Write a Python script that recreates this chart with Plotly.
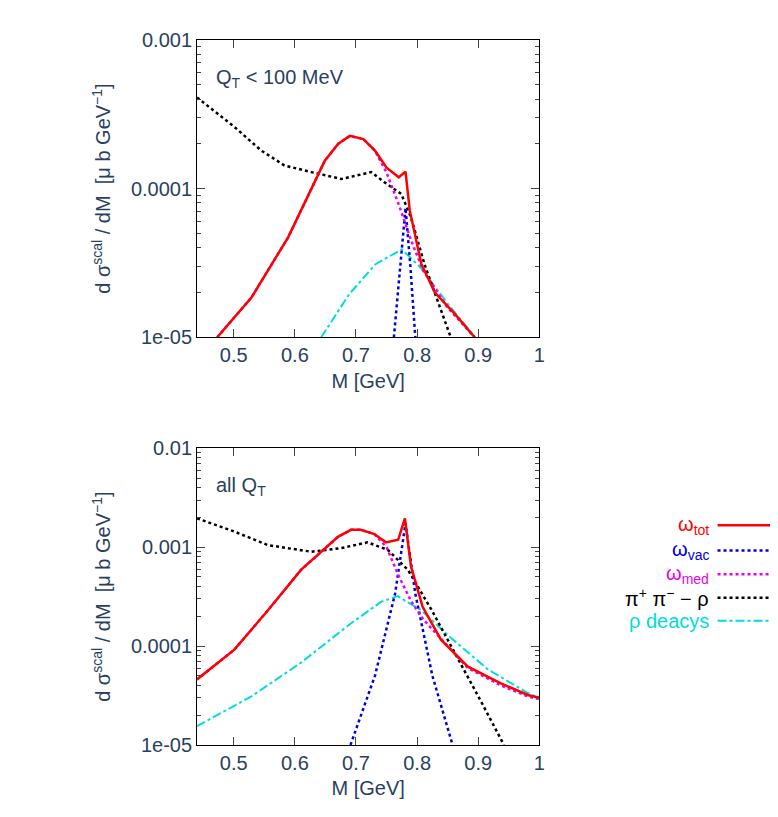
import plotly.graph_objects as go

# ---- top panel: Q_T < 100 MeV ----
m_tot_a = [0.473, 0.529, 0.589, 0.649, 0.671, 0.690, 0.712, 0.731, 0.750, 0.770, 0.781, 0.788, 0.807, 0.829, 0.862, 0.894]
y_tot_a = [1.0e-5, 1.85e-5, 4.7e-5, 1.54e-4, 2.0e-4, 2.26e-4, 2.15e-4, 1.8e-4, 1.38e-4, 1.19e-4, 1.3e-4, 7.1e-5, 3.1e-5, 2.0e-5, 1.43e-5, 1.0e-5]
m_med_a = [0.473, 0.529, 0.589, 0.649, 0.671, 0.690, 0.712, 0.731, 0.750, 0.770, 0.790, 0.810, 0.849, 0.894]
y_med_a = [1.0e-5, 1.85e-5, 4.7e-5, 1.54e-4, 2.0e-4, 2.26e-4, 2.15e-4, 1.8e-4, 1.28e-4, 7.8e-5, 4.5e-5, 2.8e-5, 1.6e-5, 1.0e-5]
m_vac_a = [0.762, 0.772, 0.781, 0.789, 0.797]
y_vac_a = [1.0e-5, 3.0e-5, 7.4e-5, 3.0e-5, 1.0e-5]
m_pp_a = [0.44, 0.501, 0.545, 0.583, 0.627, 0.676, 0.725, 0.747, 0.774, 0.790, 0.812, 0.834, 0.855]
y_pp_a = [4.1e-4, 2.6e-4, 1.8e-4, 1.43e-4, 1.29e-4, 1.16e-4, 1.29e-4, 1.1e-4, 9.2e-5, 6.4e-5, 3.1e-5, 1.76e-5, 1.0e-5]
m_rho_a = [0.643, 0.689, 0.732, 0.775, 0.807, 0.851, 0.895]
y_rho_a = [1.0e-5, 1.95e-5, 3.1e-5, 3.9e-5, 2.9e-5, 1.66e-5, 1.0e-5]

# ---- bottom panel: all Q_T ----
m_tot_b = [0.44, 0.501, 0.556, 0.610, 0.671, 0.692, 0.708, 0.730, 0.749, 0.769, 0.780, 0.790, 0.809, 0.839, 0.883, 0.937, 0.981, 1.0]
y_tot_b = [4.6e-5, 9.2e-5, 2.3e-4, 5.9e-4, 1.28e-3, 1.5e-3, 1.5e-3, 1.36e-3, 1.12e-3, 1.19e-3, 1.96e-3, 6.4e-4, 2.5e-4, 1.16e-4, 6.2e-5, 4.2e-5, 3.2e-5, 3.0e-5]
m_med_b = [0.44, 0.501, 0.556, 0.610, 0.671, 0.692, 0.708, 0.730, 0.750, 0.770, 0.790, 0.810, 0.850, 0.883, 0.937, 0.981, 1.0]
y_med_b = [4.6e-5, 9.2e-5, 2.3e-4, 5.9e-4, 1.28e-3, 1.5e-3, 1.5e-3, 1.36e-3, 1.0e-3, 5.1e-4, 2.85e-4, 1.86e-4, 1.0e-4, 6.0e-5, 4.0e-5, 3.1e-5, 2.9e-5]
m_vac_b = [0.691, 0.731, 0.764, 0.781, 0.797, 0.825, 0.858]
y_vac_b = [1.0e-5, 5.0e-5, 3.4e-4, 1.74e-3, 3.4e-4, 5.0e-5, 1.0e-5]
m_pp_b = [0.44, 0.501, 0.556, 0.627, 0.676, 0.719, 0.752, 0.785, 0.824, 0.862, 0.906, 0.942]
y_pp_b = [1.96e-3, 1.44e-3, 1.05e-3, 9.0e-4, 9.8e-4, 1.12e-3, 9.4e-4, 5.9e-4, 2.3e-4, 8.5e-5, 2.65e-5, 1.0e-5]
m_rho_b = [0.44, 0.529, 0.610, 0.692, 0.741, 0.768, 0.807, 0.856, 0.916, 0.981, 1.0]
y_rho_b = [1.55e-5, 3.1e-5, 6.8e-5, 1.7e-4, 2.8e-4, 3.2e-4, 2.3e-4, 1.2e-4, 5.8e-5, 3.35e-5, 3.0e-5]

x_ticks = [0.5, 0.6, 0.7, 0.8, 0.9, 1.0]
x_labels = ["0.5", "0.6", "0.7", "0.8", "0.9", "1"]
y_ticks_a = [1e-5, 1e-4, 1e-3]
y_labels_a = ["1e-05", "0.0001", "0.001"]
y_ticks_b = [1e-5, 1e-4, 1e-3, 1e-2]
y_labels_b = ["1e-05", "0.0001", "0.001", "0.01"]

legend_names = ["ω<sub>tot</sub>", "ω<sub>vac</sub>", "ω<sub>med</sub>", "π<sup>+</sup> π<sup>−</sup> − ρ", "ρ deacys"]
colors = ["#ff0000", "#0000dd", "#ee00ee", "#000000", "#00dddd"]
dashes = ["solid", "dot", "dot", "dot", "dashdot"]
widths = [2.5, 2.5, 2.5, 2.5, 2]

font = "Liberation Sans, Arial, sans-serif"
fs = 20
fig = go.Figure()

panels = [
    ("x", "y", [(m_tot_a, y_tot_a), (m_vac_a, y_vac_a), (m_med_a, y_med_a), (m_pp_a, y_pp_a), (m_rho_a, y_rho_a)]),
    ("x2", "y2", [(m_tot_b, y_tot_b), (m_vac_b, y_vac_b), (m_med_b, y_med_b), (m_pp_b, y_pp_b), (m_rho_b, y_rho_b)]),
]
order = [4, 3, 1, 2, 0]  # draw red on top
for xa, ya, series in panels:
    for i in order:
        mx, my = series[i]
        fig.add_trace(go.Scatter(x=mx, y=my, mode="lines", xaxis=xa, yaxis=ya, showlegend=False,
                                 line=dict(color=colors[i], dash=dashes[i], width=widths[i])))

minor_vals = [k * 10.0 ** e for e in range(-5, -1) for k in range(2, 10)]

ax = dict(range=[0.44, 1.0], tickvals=x_ticks, ticktext=x_labels, ticks="inside", ticklen=8, automargin=False,
          mirror="allticks", showline=True, linecolor="black", linewidth=1, showgrid=False, zeroline=False,
          tickfont=dict(size=fs, family=font), title=dict(text="M [GeV]", font=dict(size=fs, family=font), standoff=8))
ay = dict(type="log", ticks="inside", ticklen=8, mirror="allticks", showline=True, linecolor="black", linewidth=1,
          showgrid=False, zeroline=False, tickfont=dict(size=fs, family=font), automargin=False,
          minor=dict(ticks="inside", ticklen=4, showgrid=False, tickvals=minor_vals),
          title=dict(text="d σ<sup>scal</sup> / dM  [μ b GeV<sup>−1</sup>]", font=dict(size=fs, family=font), standoff=14))

fig.update_layout(
    width=778, height=817, margin=dict(l=0, r=0, t=0, b=0),
    plot_bgcolor="white", paper_bgcolor="white",
    xaxis=dict(ax, domain=[0.243, 0.683], anchor="y"),
    yaxis=dict(ay, domain=[0.597, 0.961], range=[-5, -3], tickvals=y_ticks_a, ticktext=y_labels_a, anchor="x"),
    xaxis2=dict(ax, domain=[0.243, 0.683], anchor="y2"),
    yaxis2=dict(ay, domain=[0.098, 0.461], range=[-5, -2], tickvals=y_ticks_b, ticktext=y_labels_b, anchor="x2"),
)

fig.add_annotation(text="Q<sub>T</sub> < 100 MeV", xref="x domain", yref="y domain", x=0.05, y=0.92,
                   xanchor="left", yanchor="top", showarrow=False, font=dict(size=fs, family=font))
fig.add_annotation(text="all Q<sub>T</sub>", xref="x2 domain", yref="y2 domain", x=0.05, y=0.92,
                   xanchor="left", yanchor="top", showarrow=False, font=dict(size=fs, family=font))

# manual legend (key on the right, as in gnuplot)
leg_y = [0.367, 0.336, 0.307, 0.278, 0.250]
for i, name in enumerate(legend_names):
    fig.add_annotation(text=name, xref="paper", yref="paper", x=0.904, y=leg_y[i], xanchor="right",
                       yanchor="middle", showarrow=False, font=dict(size=fs, family=font, color=colors[i]))
    fig.add_shape(type="line", xref="paper", yref="paper", x0=0.912, x1=1.0, y0=leg_y[i], y1=leg_y[i],
                  line=dict(color=colors[i], dash=dashes[i], width=widths[i]))

fig.write_html("out.html")
